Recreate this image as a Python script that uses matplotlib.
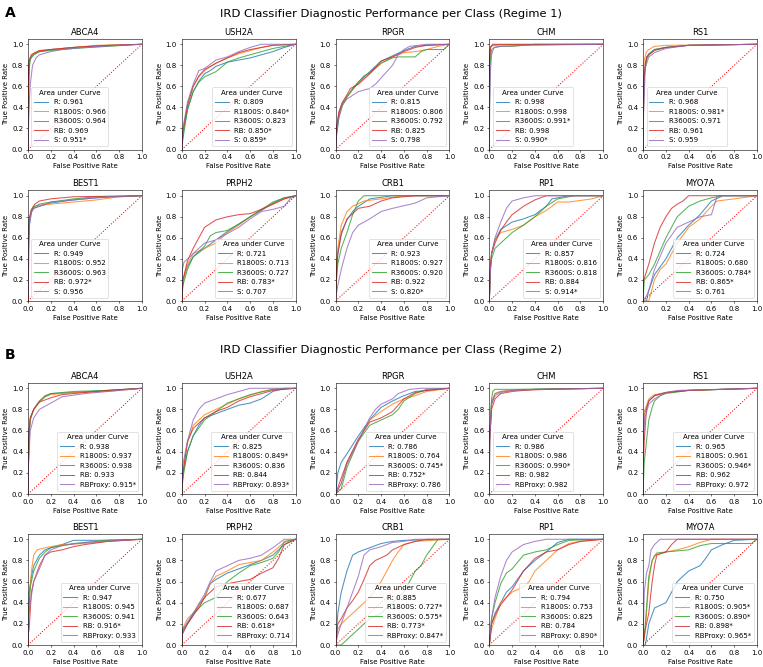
import numpy as np
import matplotlib
import matplotlib.pyplot as plt
matplotlib.use('agg')

genes = ["ABCA4", "USH2A", "RPGR", "CHM", "RS1",
         "BEST1", "PRPH2", "CRB1", "RP1", "MYO7A"]
models_r1 = ["R", "R1800S", "R3600S", "RB", "S"]
models_r2 = ["R", "R1800S", "R3600S", "RB", "RBProxy"]
ticks = [0.0, 0.2, 0.4, 0.6, 0.8, 1.0]

auc_r1 = [
    ["0.961", "0.966", "0.964", "0.969", "0.951*"],
    ["0.809", "0.840*", "0.823", "0.850*", "0.859*"],
    ["0.815", "0.806", "0.792", "0.825", "0.798"],
    ["0.998", "0.998", "0.991*", "0.998", "0.990*"],
    ["0.968", "0.981*", "0.971", "0.961", "0.959"],
    ["0.949", "0.952", "0.963", "0.972*", "0.956"],
    ["0.721", "0.713", "0.727", "0.783*", "0.707"],
    ["0.923", "0.927", "0.920", "0.922", "0.820*"],
    ["0.857", "0.816", "0.818", "0.884", "0.914*"],
    ["0.724", "0.680", "0.784*", "0.865*", "0.761"],
]
auc_r2 = [
    ["0.938", "0.937", "0.938", "0.933", "0.915*"],
    ["0.825", "0.849*", "0.836", "0.844", "0.893*"],
    ["0.786", "0.764", "0.745*", "0.752*", "0.786"],
    ["0.986", "0.986", "0.990*", "0.982", "0.982"],
    ["0.965", "0.961", "0.946*", "0.962", "0.972"],
    ["0.947", "0.945", "0.941", "0.916*", "0.933"],
    ["0.677", "0.687", "0.643", "0.618*", "0.714"],
    ["0.885", "0.727*", "0.575*", "0.773*", "0.847*"],
    ["0.794", "0.753", "0.825", "0.784", "0.890*"],
    ["0.750", "0.905*", "0.890*", "0.898*", "0.965*"],
]

# ROC curves, (fpr, tpr) pairs, one list per model
abca4_r1 = [
    [(0, 0), (0.003, 0.6), (0.01, 0.82), (0.03, 0.88), (0.06, 0.91), (0.1, 0.93), (0.2, 0.95), (0.4, 0.97), (0.6, 0.985), (1, 1)],
    [(0, 0), (0.003, 0.55), (0.01, 0.84), (0.03, 0.9), (0.06, 0.92), (0.1, 0.94), (0.2, 0.95), (0.4, 0.97), (0.6, 0.99), (1, 1)],
    [(0, 0), (0.005, 0.22), (0.01, 0.75), (0.02, 0.86), (0.05, 0.9), (0.1, 0.93), (0.2, 0.94), (0.4, 0.96), (0.7, 0.98), (1, 1)],
    [(0, 0), (0.003, 0.65), (0.01, 0.85), (0.03, 0.9), (0.06, 0.92), (0.1, 0.94), (0.2, 0.95), (0.4, 0.97), (0.7, 0.99), (1, 1)],
    [(0, 0), (0.005, 0.3), (0.02, 0.62), (0.04, 0.8), (0.07, 0.87), (0.1, 0.9), (0.2, 0.93), (0.3, 0.95), (0.5, 0.97), (0.8, 0.99), (1, 1)],
]
ush2a_r1 = [
    [(0, 0), (0.01, 0.15), (0.05, 0.38), (0.1, 0.55), (0.15, 0.65), (0.2, 0.72), (0.25, 0.75), (0.3, 0.79), (0.4, 0.83), (0.5, 0.85), (0.6, 0.87), (0.7, 0.9), (0.8, 0.93), (0.9, 0.97), (1, 1)],
    [(0, 0), (0.01, 0.15), (0.05, 0.42), (0.1, 0.6), (0.15, 0.69), (0.2, 0.75), (0.3, 0.82), (0.4, 0.87), (0.5, 0.91), (0.6, 0.94), (0.7, 0.97), (0.8, 0.99), (1, 1)],
    [(0, 0), (0.01, 0.1), (0.05, 0.38), (0.1, 0.55), (0.15, 0.64), (0.2, 0.69), (0.3, 0.74), (0.4, 0.83), (0.5, 0.87), (0.6, 0.9), (0.7, 0.93), (0.8, 0.96), (0.9, 0.98), (1, 1)],
    [(0, 0), (0.01, 0.18), (0.05, 0.42), (0.1, 0.6), (0.15, 0.7), (0.2, 0.76), (0.3, 0.82), (0.4, 0.87), (0.5, 0.92), (0.6, 0.95), (0.7, 0.97), (0.8, 0.99), (1, 1)],
    [(0, 0), (0.01, 0.2), (0.05, 0.45), (0.1, 0.62), (0.15, 0.75), (0.2, 0.77), (0.3, 0.85), (0.4, 0.88), (0.5, 0.93), (0.6, 0.97), (0.7, 1.0), (1, 1)],
]
rpgr_r1 = [
    [(0, 0), (0.01, 0.2), (0.03, 0.35), (0.06, 0.44), (0.1, 0.5), (0.15, 0.58), (0.2, 0.64), (0.3, 0.74), (0.4, 0.84), (0.5, 0.89), (0.6, 0.94), (0.7, 0.98), (0.8, 0.99), (1, 1)],
    [(0, 0), (0.01, 0.18), (0.03, 0.33), (0.06, 0.43), (0.1, 0.5), (0.15, 0.57), (0.2, 0.63), (0.3, 0.72), (0.4, 0.82), (0.5, 0.88), (0.6, 0.92), (0.7, 0.93), (0.8, 0.95), (0.9, 0.98), (1, 1)],
    [(0, 0), (0.01, 0.15), (0.03, 0.32), (0.06, 0.42), (0.1, 0.5), (0.15, 0.57), (0.2, 0.64), (0.25, 0.7), (0.3, 0.73), (0.4, 0.82), (0.5, 0.87), (0.55, 0.88), (0.7, 0.88), (0.75, 0.93), (0.8, 0.95), (0.95, 0.95), (1, 1)],
    [(0, 0), (0.01, 0.22), (0.03, 0.36), (0.06, 0.45), (0.1, 0.52), (0.13, 0.58), (0.2, 0.62), (0.3, 0.72), (0.4, 0.84), (0.5, 0.88), (0.6, 0.93), (0.7, 0.97), (0.8, 0.99), (1, 1)],
    [(0, 0), (0.01, 0.15), (0.03, 0.3), (0.06, 0.42), (0.1, 0.48), (0.2, 0.55), (0.3, 0.58), (0.35, 0.62), (0.4, 0.68), (0.5, 0.8), (0.55, 0.9), (0.6, 0.95), (0.65, 0.98), (0.8, 1.0), (1, 1)],
]
chm_r1 = [
    [(0, 0), (0.003, 0.85), (0.01, 0.97), (0.03, 0.99), (0.1, 0.995), (1, 1)],
    [(0, 0), (0.003, 0.9), (0.01, 0.98), (0.03, 0.99), (0.1, 0.995), (1, 1)],
    [(0, 0), (0.005, 0.8), (0.02, 0.95), (0.05, 0.97), (0.1, 0.98), (0.2, 0.98), (0.4, 1.0), (1, 1)],
    [(0, 0), (0.003, 0.88), (0.01, 0.97), (0.03, 1.0), (1, 1)],
    [(0, 0), (0.003, 0.45), (0.01, 0.75), (0.02, 0.9), (0.04, 0.97), (0.1, 0.98), (0.3, 0.99), (1, 1)],
]
rs1_r1 = [
    [(0, 0), (0.005, 0.6), (0.01, 0.75), (0.03, 0.87), (0.05, 0.91), (0.1, 0.95), (0.2, 0.97), (0.4, 0.99), (1, 1)],
    [(0, 0), (0.005, 0.7), (0.01, 0.85), (0.03, 0.93), (0.05, 0.95), (0.1, 0.98), (0.2, 0.99), (1, 1)],
    [(0, 0), (0.005, 0.5), (0.01, 0.7), (0.03, 0.85), (0.05, 0.9), (0.1, 0.95), (0.2, 0.97), (0.4, 0.99), (1, 1)],
    [(0, 0), (0.003, 0.3), (0.01, 0.7), (0.03, 0.88), (0.05, 0.9), (0.1, 0.94), (0.2, 0.97), (0.4, 0.99), (1, 1)],
    [(0, 0), (0.005, 0.4), (0.02, 0.78), (0.05, 0.88), (0.1, 0.92), (0.2, 0.96), (0.4, 0.99), (1, 1)],
]
best1_r1 = [
    [(0, 0), (0.005, 0.55), (0.01, 0.7), (0.03, 0.84), (0.05, 0.88), (0.1, 0.9), (0.2, 0.93), (0.4, 0.96), (0.6, 0.98), (1, 1)],
    [(0, 0), (0.005, 0.6), (0.01, 0.75), (0.03, 0.86), (0.05, 0.9), (0.1, 0.91), (0.2, 0.92), (0.4, 0.94), (0.6, 0.96), (0.8, 0.99), (1, 1)],
    [(0, 0), (0.005, 0.6), (0.01, 0.78), (0.03, 0.86), (0.05, 0.89), (0.1, 0.92), (0.2, 0.94), (0.4, 0.97), (0.6, 0.99), (1, 1)],
    [(0, 0), (0.005, 0.3), (0.01, 0.78), (0.03, 0.87), (0.06, 0.92), (0.1, 0.95), (0.2, 0.97), (0.4, 0.99), (1, 1)],
    [(0, 0), (0.005, 0.5), (0.01, 0.72), (0.03, 0.85), (0.05, 0.88), (0.1, 0.9), (0.2, 0.94), (0.4, 0.96), (0.7, 0.99), (1, 1)],
]
prph2_r1 = [
    [(0, 0), (0.01, 0.2), (0.05, 0.33), (0.1, 0.42), (0.2, 0.5), (0.3, 0.58), (0.4, 0.66), (0.5, 0.73), (0.6, 0.8), (0.7, 0.86), (0.8, 0.93), (0.9, 0.98), (1, 1)],
    [(0, 0), (0.01, 0.18), (0.05, 0.35), (0.1, 0.45), (0.2, 0.5), (0.3, 0.55), (0.4, 0.65), (0.5, 0.72), (0.6, 0.8), (0.7, 0.87), (0.8, 0.92), (0.9, 0.97), (1, 1)],
    [(0, 0), (0.01, 0.15), (0.05, 0.3), (0.1, 0.42), (0.2, 0.52), (0.25, 0.62), (0.3, 0.65), (0.4, 0.67), (0.5, 0.73), (0.6, 0.8), (0.7, 0.87), (0.8, 0.94), (0.9, 0.98), (1, 1)],
    [(0, 0), (0.01, 0.2), (0.05, 0.38), (0.1, 0.5), (0.15, 0.6), (0.2, 0.7), (0.3, 0.77), (0.4, 0.8), (0.5, 0.82), (0.6, 0.83), (0.7, 0.87), (0.8, 0.92), (0.9, 0.97), (1, 1)],
    [(0, 0), (0.005, 0.3), (0.02, 0.37), (0.1, 0.45), (0.2, 0.55), (0.3, 0.58), (0.4, 0.64), (0.5, 0.7), (0.6, 0.78), (0.7, 0.85), (0.8, 0.87), (0.9, 0.9), (0.95, 0.97), (1, 1)],
]
crb1_r1 = [
    [(0, 0), (0.005, 0.3), (0.02, 0.45), (0.05, 0.65), (0.1, 0.77), (0.15, 0.85), (0.2, 0.9), (0.3, 0.97), (0.5, 1.0), (1, 1)],
    [(0, 0), (0.005, 0.3), (0.02, 0.5), (0.05, 0.72), (0.1, 0.85), (0.15, 0.9), (0.25, 0.95), (0.4, 0.97), (0.6, 1.0), (1, 1)],
    [(0, 0), (0.005, 0.15), (0.02, 0.35), (0.05, 0.5), (0.1, 0.65), (0.15, 0.82), (0.2, 0.95), (0.25, 1.0), (1, 1)],
    [(0, 0), (0.005, 0.2), (0.02, 0.45), (0.05, 0.63), (0.1, 0.78), (0.2, 0.88), (0.3, 0.9), (0.4, 0.95), (0.5, 0.98), (0.7, 1.0), (1, 1)],
    [(0, 0), (0.005, 0.05), (0.02, 0.15), (0.05, 0.3), (0.1, 0.5), (0.15, 0.65), (0.2, 0.72), (0.3, 0.78), (0.4, 0.85), (0.5, 0.88), (0.7, 0.93), (0.8, 0.98), (1, 1)],
]
rp1_r1 = [
    [(0, 0), (0.01, 0.3), (0.02, 0.45), (0.05, 0.58), (0.1, 0.68), (0.2, 0.75), (0.3, 0.78), (0.4, 0.82), (0.5, 0.9), (0.55, 0.97), (0.7, 1.0), (1, 1)],
    [(0, 0), (0.01, 0.35), (0.02, 0.45), (0.05, 0.58), (0.1, 0.65), (0.2, 0.68), (0.3, 0.72), (0.4, 0.8), (0.5, 0.86), (0.6, 0.94), (0.7, 0.94), (0.9, 0.97), (1, 1)],
    [(0, 0), (0.01, 0.3), (0.02, 0.4), (0.05, 0.5), (0.1, 0.55), (0.2, 0.65), (0.3, 0.72), (0.4, 0.8), (0.5, 0.9), (0.6, 0.97), (0.75, 1.0), (1, 1)],
    [(0, 0), (0.01, 0.35), (0.02, 0.45), (0.05, 0.55), (0.1, 0.67), (0.15, 0.75), (0.2, 0.82), (0.3, 0.9), (0.4, 0.96), (0.5, 1.0), (1, 1)],
    [(0, 0), (0.01, 0.3), (0.02, 0.45), (0.05, 0.6), (0.1, 0.75), (0.15, 0.88), (0.2, 0.95), (0.3, 0.98), (0.4, 1.0), (1, 1)],
]
myo7a_r1 = [
    [(0, 0), (0.03, 0.0), (0.05, 0.1), (0.1, 0.25), (0.2, 0.4), (0.3, 0.6), (0.4, 0.72), (0.5, 0.82), (0.6, 0.95), (0.7, 1.0), (1, 1)],
    [(0, 0), (0.05, 0.0), (0.1, 0.2), (0.15, 0.3), (0.2, 0.35), (0.3, 0.55), (0.4, 0.7), (0.5, 0.78), (0.6, 0.9), (0.65, 0.95), (0.8, 0.97), (1, 1)],
    [(0, 0), (0.01, 0.2), (0.05, 0.25), (0.1, 0.35), (0.2, 0.6), (0.3, 0.8), (0.4, 0.9), (0.5, 0.95), (0.6, 0.98), (0.7, 1.0), (1, 1)],
    [(0, 0), (0.005, 0.2), (0.05, 0.35), (0.1, 0.55), (0.15, 0.7), (0.2, 0.8), (0.25, 0.88), (0.3, 0.92), (0.35, 0.95), (0.4, 1.0), (1, 1)],
    [(0, 0), (0.03, 0.05), (0.05, 0.1), (0.1, 0.3), (0.2, 0.55), (0.3, 0.7), (0.4, 0.75), (0.5, 0.8), (0.6, 0.82), (0.65, 1.0), (1, 1)],
]

abca4_r2 = [
    [(0, 0), (0.005, 0.35), (0.01, 0.55), (0.02, 0.7), (0.05, 0.8), (0.1, 0.88), (0.15, 0.93), (0.2, 0.95), (0.4, 0.96), (0.7, 0.98), (1, 1)],
    [(0, 0), (0.005, 0.3), (0.01, 0.55), (0.02, 0.72), (0.05, 0.8), (0.1, 0.88), (0.15, 0.92), (0.2, 0.94), (0.4, 0.96), (0.7, 0.97), (1, 1)],
    [(0, 0), (0.005, 0.4), (0.01, 0.6), (0.02, 0.72), (0.05, 0.8), (0.1, 0.87), (0.15, 0.92), (0.2, 0.95), (0.4, 0.97), (0.7, 0.98), (1, 1)],
    [(0, 0), (0.005, 0.4), (0.01, 0.6), (0.02, 0.72), (0.05, 0.8), (0.1, 0.87), (0.2, 0.91), (0.3, 0.94), (0.5, 0.96), (0.7, 0.98), (1, 1)],
    [(0, 0), (0.005, 0.3), (0.02, 0.6), (0.05, 0.72), (0.1, 0.8), (0.2, 0.86), (0.3, 0.92), (0.5, 0.95), (0.8, 0.98), (1, 1)],
]
ush2a_r2 = [
    [(0, 0), (0.01, 0.2), (0.05, 0.4), (0.1, 0.55), (0.15, 0.65), (0.2, 0.72), (0.3, 0.76), (0.4, 0.8), (0.5, 0.84), (0.6, 0.86), (0.7, 0.9), (0.8, 0.97), (0.9, 1.0), (1, 1)],
    [(0, 0), (0.01, 0.2), (0.05, 0.48), (0.1, 0.65), (0.2, 0.75), (0.3, 0.8), (0.4, 0.85), (0.5, 0.9), (0.7, 0.97), (0.8, 0.99), (1, 1)],
    [(0, 0), (0.01, 0.15), (0.05, 0.4), (0.1, 0.55), (0.2, 0.7), (0.3, 0.78), (0.4, 0.86), (0.5, 0.9), (0.6, 0.94), (0.8, 0.99), (1, 1)],
    [(0, 0), (0.01, 0.2), (0.05, 0.5), (0.08, 0.57), (0.1, 0.62), (0.2, 0.72), (0.3, 0.78), (0.4, 0.82), (0.5, 0.88), (0.6, 0.92), (0.8, 0.98), (1, 1)],
    [(0, 0), (0.01, 0.28), (0.05, 0.5), (0.1, 0.7), (0.15, 0.8), (0.2, 0.86), (0.3, 0.9), (0.4, 0.94), (0.5, 0.97), (0.6, 1.0), (1, 1)],
]
rpgr_r2 = [
    [(0, 0), (0.02, 0.2), (0.05, 0.3), (0.1, 0.38), (0.2, 0.55), (0.3, 0.7), (0.4, 0.82), (0.5, 0.88), (0.6, 0.93), (0.7, 0.97), (0.8, 0.98), (1, 1)],
    [(0, 0), (0.05, 0.1), (0.1, 0.3), (0.2, 0.5), (0.3, 0.7), (0.4, 0.78), (0.5, 0.85), (0.6, 0.9), (0.7, 0.93), (0.8, 0.97), (1, 1)],
    [(0, 0), (0.05, 0.05), (0.1, 0.25), (0.2, 0.5), (0.3, 0.65), (0.4, 0.7), (0.5, 0.75), (0.55, 0.8), (0.6, 0.88), (0.7, 0.95), (0.8, 0.99), (1, 1)],
    [(0, 0), (0.05, 0.15), (0.1, 0.3), (0.2, 0.52), (0.3, 0.68), (0.4, 0.72), (0.5, 0.78), (0.6, 0.9), (0.7, 0.96), (0.8, 0.98), (1, 1)],
    [(0, 0), (0.05, 0.1), (0.1, 0.28), (0.2, 0.5), (0.3, 0.72), (0.35, 0.8), (0.4, 0.85), (0.5, 0.9), (0.55, 0.95), (0.65, 0.99), (0.75, 1.0), (1, 1)],
]
chm_r2 = [
    [(0, 0), (0.003, 0.5), (0.02, 0.85), (0.05, 0.95), (0.1, 0.97), (0.2, 0.98), (0.4, 0.99), (1, 1)],
    [(0, 0), (0.003, 0.55), (0.02, 0.88), (0.05, 0.95), (0.1, 0.97), (0.2, 0.98), (0.4, 0.99), (1, 1)],
    [(0, 0), (0.003, 0.6), (0.02, 0.9), (0.03, 0.97), (0.05, 0.99), (0.2, 0.99), (1, 1)],
    [(0, 0), (0.003, 0.5), (0.02, 0.8), (0.05, 0.9), (0.1, 0.95), (0.2, 0.97), (0.3, 0.98), (0.5, 0.99), (1, 1)],
    [(0, 0), (0.003, 0.5), (0.02, 0.85), (0.05, 0.93), (0.1, 0.96), (0.2, 0.98), (0.4, 0.99), (1, 1)],
]
rs1_r2 = [
    [(0, 0), (0.003, 0.5), (0.01, 0.75), (0.05, 0.88), (0.1, 0.93), (0.2, 0.96), (0.4, 0.98), (1, 1)],
    [(0, 0), (0.003, 0.55), (0.01, 0.78), (0.05, 0.9), (0.1, 0.94), (0.2, 0.96), (0.4, 0.98), (1, 1)],
    [(0, 0), (0.003, 0.1), (0.01, 0.3), (0.03, 0.5), (0.05, 0.7), (0.08, 0.82), (0.1, 0.88), (0.15, 0.93), (0.2, 0.95), (0.4, 0.98), (1, 1)],
    [(0, 0), (0.003, 0.3), (0.01, 0.5), (0.03, 0.8), (0.05, 0.88), (0.1, 0.93), (0.2, 0.96), (0.4, 0.98), (1, 1)],
    [(0, 0), (0.003, 0.5), (0.01, 0.7), (0.05, 0.85), (0.1, 0.9), (0.2, 0.96), (0.3, 0.98), (1, 1)],
]
best1_r2 = [
    [(0, 0), (0.005, 0.35), (0.01, 0.5), (0.03, 0.65), (0.05, 0.75), (0.1, 0.85), (0.15, 0.9), (0.2, 0.92), (0.3, 0.95), (0.4, 0.99), (0.6, 0.99), (1, 1)],
    [(0, 0), (0.005, 0.3), (0.01, 0.4), (0.03, 0.7), (0.05, 0.85), (0.08, 0.9), (0.15, 0.92), (0.3, 0.95), (0.5, 0.96), (0.7, 0.98), (1, 1)],
    [(0, 0), (0.005, 0.3), (0.02, 0.55), (0.05, 0.7), (0.1, 0.82), (0.15, 0.88), (0.2, 0.92), (0.4, 0.96), (0.7, 0.99), (1, 1)],
    [(0, 0), (0.005, 0.12), (0.01, 0.15), (0.03, 0.5), (0.05, 0.6), (0.1, 0.75), (0.15, 0.85), (0.2, 0.88), (0.3, 0.9), (0.4, 0.93), (0.5, 0.95), (0.7, 0.98), (1, 1)],
    [(0, 0), (0.005, 0.25), (0.02, 0.4), (0.05, 0.6), (0.1, 0.72), (0.15, 0.85), (0.2, 0.9), (0.3, 0.94), (0.5, 0.97), (1, 1)],
]
prph2_r2 = [
    [(0, 0), (0.005, 0.12), (0.05, 0.2), (0.1, 0.28), (0.15, 0.38), (0.2, 0.45), (0.25, 0.58), (0.3, 0.62), (0.4, 0.68), (0.5, 0.72), (0.6, 0.76), (0.7, 0.8), (0.8, 0.85), (0.9, 0.95), (1, 1)],
    [(0, 0), (0.005, 0.15), (0.05, 0.25), (0.1, 0.3), (0.2, 0.45), (0.25, 0.58), (0.3, 0.65), (0.4, 0.7), (0.5, 0.76), (0.6, 0.78), (0.7, 0.8), (0.8, 0.88), (0.9, 0.97), (1, 1)],
    [(0, 0), (0.005, 0.15), (0.05, 0.2), (0.1, 0.3), (0.2, 0.4), (0.3, 0.45), (0.4, 0.6), (0.5, 0.68), (0.6, 0.75), (0.7, 0.78), (0.8, 0.82), (0.85, 0.88), (0.9, 0.98), (1, 1)],
    [(0, 0), (0.005, 0.1), (0.05, 0.2), (0.1, 0.28), (0.15, 0.35), (0.2, 0.45), (0.3, 0.55), (0.4, 0.58), (0.5, 0.6), (0.6, 0.62), (0.7, 0.68), (0.8, 0.73), (0.85, 0.82), (0.9, 0.95), (1, 1)],
    [(0, 0), (0.005, 0.12), (0.05, 0.22), (0.1, 0.3), (0.2, 0.48), (0.25, 0.6), (0.3, 0.7), (0.4, 0.75), (0.5, 0.8), (0.6, 0.82), (0.7, 0.85), (0.8, 0.92), (0.9, 1.0), (1, 1)],
]
crb1_r2 = [
    [(0, 0), (0.02, 0.3), (0.05, 0.5), (0.1, 0.7), (0.15, 0.85), (0.2, 0.88), (0.3, 0.92), (0.4, 0.96), (0.5, 0.98), (0.6, 0.99), (1, 1)],
    [(0, 0), (0.02, 0.15), (0.05, 0.2), (0.1, 0.25), (0.2, 0.35), (0.3, 0.45), (0.4, 0.6), (0.45, 0.7), (0.5, 0.8), (0.55, 0.88), (0.6, 0.95), (0.7, 0.98), (1, 1)],
    [(0, 0), (0.05, 0.0), (0.1, 0.05), (0.2, 0.15), (0.3, 0.25), (0.4, 0.3), (0.5, 0.4), (0.6, 0.5), (0.65, 0.6), (0.7, 0.7), (0.75, 0.75), (0.8, 0.85), (0.9, 1.0), (1, 1)],
    [(0, 0), (0.02, 0.2), (0.05, 0.25), (0.1, 0.35), (0.15, 0.42), (0.2, 0.5), (0.25, 0.62), (0.3, 0.75), (0.35, 0.8), (0.45, 0.85), (0.5, 0.9), (0.6, 0.95), (0.7, 0.98), (0.8, 1.0), (1, 1)],
    [(0, 0), (0.02, 0.1), (0.05, 0.2), (0.1, 0.35), (0.15, 0.5), (0.2, 0.65), (0.25, 0.85), (0.3, 0.9), (0.4, 0.93), (0.5, 0.97), (0.6, 0.98), (0.7, 1.0), (1, 1)],
]
rp1_r2 = [
    [(0, 0), (0.02, 0.2), (0.05, 0.3), (0.1, 0.4), (0.15, 0.5), (0.2, 0.55), (0.3, 0.7), (0.4, 0.8), (0.5, 0.88), (0.6, 0.97), (0.7, 1.0), (1, 1)],
    [(0, 0), (0.02, 0.15), (0.05, 0.25), (0.1, 0.4), (0.2, 0.5), (0.3, 0.55), (0.35, 0.6), (0.4, 0.7), (0.5, 0.8), (0.6, 0.9), (0.7, 0.96), (0.8, 0.98), (1, 1)],
    [(0, 0), (0.02, 0.25), (0.05, 0.4), (0.1, 0.58), (0.15, 0.68), (0.2, 0.72), (0.3, 0.85), (0.4, 0.88), (0.5, 0.9), (0.6, 0.95), (0.7, 0.99), (1, 1)],
    [(0, 0), (0.02, 0.2), (0.05, 0.28), (0.1, 0.38), (0.2, 0.52), (0.3, 0.7), (0.4, 0.82), (0.5, 0.88), (0.6, 0.9), (0.7, 0.95), (0.8, 0.98), (1, 1)],
    [(0, 0), (0.02, 0.25), (0.05, 0.45), (0.1, 0.65), (0.15, 0.8), (0.2, 0.88), (0.3, 0.95), (0.4, 0.98), (0.5, 1.0), (1, 1)],
]
myo7a_r2 = [
    [(0, 0), (0.02, 0.0), (0.05, 0.2), (0.1, 0.35), (0.2, 0.4), (0.25, 0.5), (0.3, 0.6), (0.4, 0.7), (0.5, 0.75), (0.55, 0.82), (0.6, 0.9), (0.7, 0.95), (0.8, 0.99), (1, 1)],
    [(0, 0), (0.02, 0.15), (0.05, 0.6), (0.08, 0.8), (0.1, 0.85), (0.2, 0.88), (0.3, 0.9), (0.4, 0.93), (0.5, 0.97), (0.6, 1.0), (1, 1)],
    [(0, 0), (0.02, 0.2), (0.05, 0.65), (0.08, 0.8), (0.12, 0.87), (0.2, 0.88), (0.4, 0.9), (0.5, 0.94), (0.6, 0.96), (0.95, 0.96), (1, 1)],
    [(0, 0), (0.02, 0.15), (0.05, 0.3), (0.08, 0.6), (0.1, 0.75), (0.12, 0.85), (0.2, 0.88), (0.25, 0.95), (0.3, 1.0), (1, 1)],
    [(0, 0), (0.01, 0.5), (0.03, 0.68), (0.05, 0.75), (0.07, 0.9), (0.1, 0.95), (0.15, 1.0), (1, 1)],
]

curves_r1 = [abca4_r1, ush2a_r1, rpgr_r1, chm_r1, rs1_r1,
             best1_r1, prph2_r1, crb1_r1, rp1_r1, myo7a_r1]
curves_r2 = [abca4_r2, ush2a_r2, rpgr_r2, chm_r2, rs1_r2,
             best1_r2, prph2_r2, crb1_r2, rp1_r2, myo7a_r2]

legend_locs_r1 = ["lower left", "lower right", "lower right", "lower left", "lower left",
                  "lower left", "lower right", "lower right", "lower right", "lower right"]
legend_locs_r2 = ["lower right", "lower right", "lower right", "lower left", "lower right",
                  "lower right", "lower right", "lower right", "lower right", "lower right"]

my_dpi = 50
fig = plt.figure(figsize=(763 / my_dpi, 667 / my_dpi), dpi=my_dpi)

left, right = 28 / 763, 757 / 763
gs_a = fig.add_gridspec(2, 5, left=left, right=right, top=1 - 39 / 667,
                        bottom=1 - 301 / 667, wspace=0.35, hspace=0.37)
gs_b = fig.add_gridspec(2, 5, left=left, right=right, top=1 - 383 / 667,
                        bottom=1 - 645 / 667, wspace=0.35, hspace=0.36)


def draw_block(gs, curves, aucs, models, locs):
    for i, gene in enumerate(genes):
        ax = fig.add_subplot(gs[i // 5, i % 5])
        for j, model in enumerate(models):
            pts = np.array(curves[i][j])
            ax.plot(pts[:, 0], pts[:, 1], color=f'C{j}', alpha=0.8,
                    label=f'{model}: {aucs[i][j]}')
        ax.plot([0, 1], [0, 1], 'r:')
        ax.set_xlim(0, 1.0)
        ax.set_ylim(0, 1.05)
        ax.set_xticks(ticks)
        ax.set_yticks(ticks)
        ax.set_title(gene, fontsize=12)
        ax.set_xlabel('False Positive Rate')
        ax.set_ylabel('True Positive Rate')
        ax.legend(title='Area under Curve', loc=locs[i])


draw_block(gs_a, curves_r1, auc_r1, models_r1, legend_locs_r1)
draw_block(gs_b, curves_r2, auc_r2, models_r2, legend_locs_r2)

fig.text(0.513, 1 - 14 / 667, 'IRD Classifier Diagnostic Performance per Class (Regime 1)',
         ha='center', va='center', fontsize=16.5)
fig.text(0.513, 1 - 350 / 667, 'IRD Classifier Diagnostic Performance per Class (Regime 2)',
         ha='center', va='center', fontsize=16.5)
fig.text(0.006, 1 - 13 / 667, 'A', ha='left', va='center', fontsize=20, fontweight='bold')
fig.text(0.006, 1 - 355 / 667, 'B', ha='left', va='center', fontsize=20, fontweight='bold')

plt.savefig('out.png', dpi=my_dpi)
